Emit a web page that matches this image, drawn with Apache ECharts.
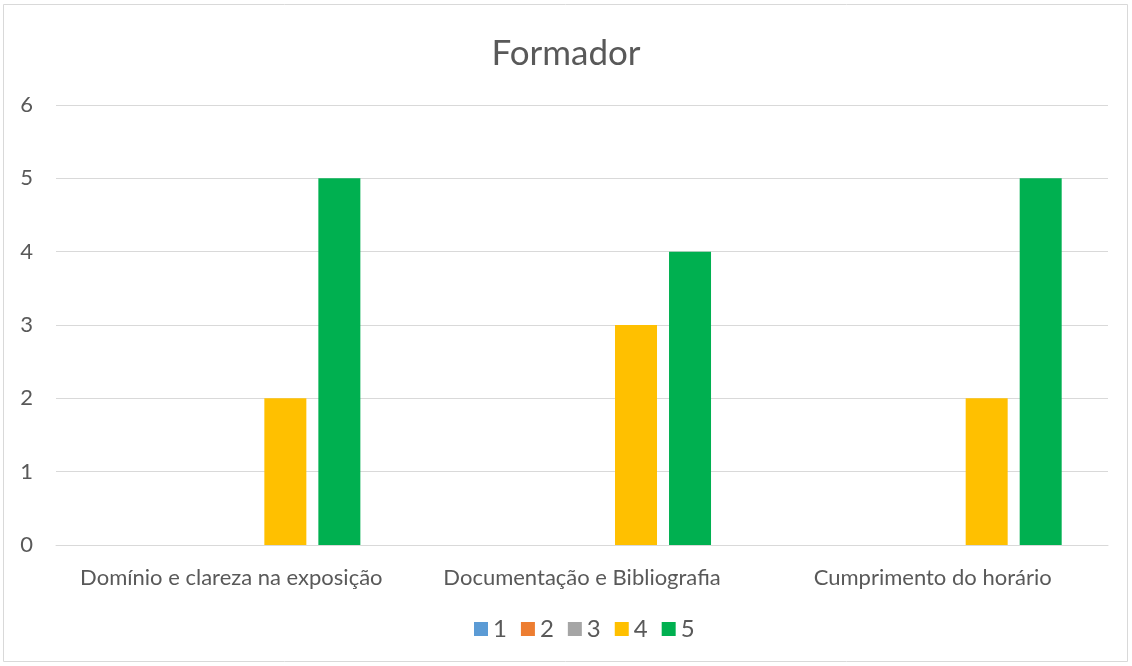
<!DOCTYPE html>
<html><head><meta charset="utf-8">
<script src="https://cdn.jsdelivr.net/npm/echarts@6/dist/echarts.min.js"></script>
<style>html,body{margin:0;padding:0;background:#fff}#c{width:1132px;height:666px}</style>
</head><body><div id="c"></div>
<script>
const categories = ['Domínio e clareza na exposição', 'Documentação e Bibliografia', 'Cumprimento do horário'];
const seriesNames = ['1', '2', '3', '4', '5'];
const s1 = [0, 0, 0];
const s2 = [0, 0, 0];
const s3 = [0, 0, 0];
const s4 = [2, 3, 2];
const s5 = [5, 4, 5];
const colors = ['#5b9bd5', '#ed7d31', '#a5a5a5', '#ffc000', '#00b050'];
const values = [s1, s2, s3, s4, s5];
const FONT = 'Lato';
const chart = echarts.init(document.getElementById('c'));
chart.setOption({
  animation: false,
  color: colors,
  title: { text: 'Formador', left: 'center', top: 31, textStyle: { fontFamily: FONT, fontSize: 35, fontWeight: 'normal', color: '#595959' } },
  legend: { bottom: 20, left: 469, itemWidth: 14, itemHeight: 14, itemGap: 14, icon: 'rect',
    textStyle: { fontFamily: FONT, fontSize: 24, color: '#595959' }, data: seriesNames },
  grid: { left: 56, right: 24, top: 105, bottom: 121, containLabel: false },
  xAxis: { type: 'category', data: categories,
    axisLine: { lineStyle: { color: '#d9d9d9', width: 1 } }, axisTick: { show: false },
    axisLabel: { interval: 0, hideOverlap: false, fontFamily: FONT, fontSize: 22, color: '#595959', margin: 22 } },
  yAxis: { type: 'value', min: 0, max: 6, interval: 1,
    axisLine: { show: false }, axisTick: { show: false },
    splitLine: { lineStyle: { color: '#d9d9d9', width: 1 } },
    axisLabel: { fontFamily: FONT, fontSize: 22, color: '#595959', margin: 23 } },
  series: seriesNames.map((n, i) => ({ name: n, type: 'bar', data: values[i], barWidth: 42, barGap: '28.6%', barCategoryGap: '26%' })),
  graphic: [{ type: 'rect', shape: { x: 3.5, y: 4.5, width: 1124, height: 657 }, style: { fill: 'none', stroke: '#d9d9d9', lineWidth: 1 }, silent: true }]
});
</script></body></html>
